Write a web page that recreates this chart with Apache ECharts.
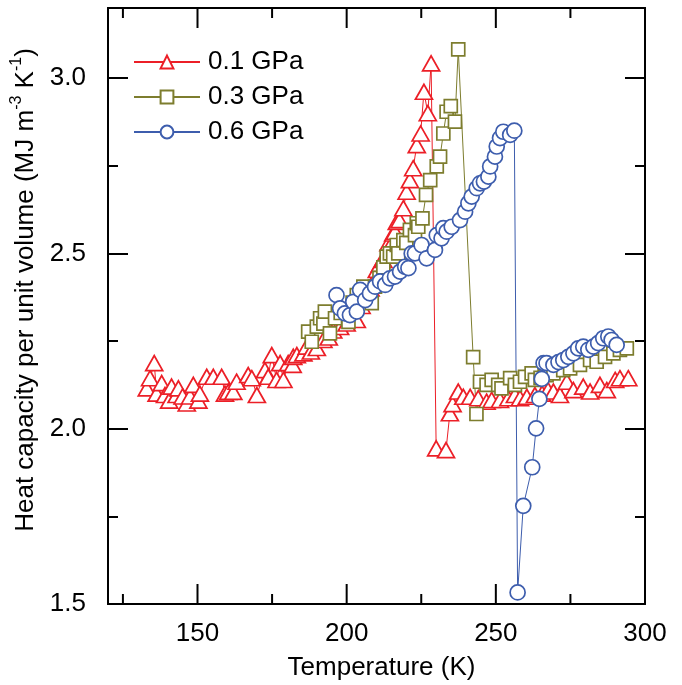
<!DOCTYPE html>
<html><head><meta charset="utf-8">
<script src="https://cdn.jsdelivr.net/npm/echarts@6/dist/echarts.min.js"></script>
<style>html,body{margin:0;padding:0;background:#fff}#c{width:682px;height:685px}</style>
</head><body><div id="c"></div>
<script>
// ---- data ----
const names = ['0.1 GPa', '0.3 GPa', '0.6 GPa'];
const xTicksMajor = [150, 200, 250, 300];
const xTicksMinor = [125, 175, 225, 275];
const yTicksMajor = [1.5, 2.0, 2.5, 3.0];

const t01 = [133.0,134.1,135.5,136.3,138.0,139.1,140.5,141.3,143.0,143.6,145.0,146.4,147.5,148.6,150.3,150.8,153.1,155.3,158.1,159.2,160.3,162.0,163.1,167.0,168.2,169.9,172.6,173.7,174.9,176.5,177.7,178.8,180.4,181.9,182.1,183.3,185.5,186.6,188.0,190.0,192.2,194.0,195.5,197.8,200.0,201.5,203.4,205.0,206.5,208.0,209.0,210.1,211.2,212.3,213.4,214.0,215.1,215.6,216.2,216.8,217.7,219.0,220.1,221.2,222.3,223.5,224.8,225.9,227.2,228.3,230.0,233.3,234.6,235.5,237.4,239.1,241.4,244.1,246.9,248.6,251.4,254.2,256.4,258.1,260.4,263.1,265.5,267.5,269.3,271.5,273.8,276.0,279.3,281.6,284.9,287.2,290.0,291.6,294.4];
const c01 = [2.115,2.144,2.187,2.100,2.130,2.096,2.080,2.120,2.096,2.115,2.092,2.072,2.092,2.125,2.080,2.100,2.148,2.148,2.148,2.100,2.105,2.105,2.134,2.153,2.144,2.096,2.167,2.148,2.210,2.139,2.187,2.139,2.187,2.182,2.205,2.210,2.215,2.234,2.220,2.230,2.253,2.260,2.280,2.290,2.300,2.320,2.310,2.350,2.370,2.400,2.420,2.453,2.470,2.481,2.495,2.529,2.529,2.557,2.562,2.590,2.595,2.629,2.676,2.709,2.743,2.809,2.842,2.961,2.900,3.042,1.944,1.939,2.044,2.070,2.106,2.091,2.091,2.087,2.077,2.082,2.082,2.087,2.096,2.087,2.091,2.096,2.100,2.110,2.106,2.096,2.134,2.110,2.120,2.106,2.125,2.110,2.139,2.144,2.144];

const t03 = [187.1,188.3,190.0,191.1,192.2,192.7,194.4,196.1,198.0,200.6,202.0,203.4,205.6,207.0,208.4,209.5,211.0,212.3,213.4,214.5,215.6,216.8,217.3,219.0,220.0,221.2,222.9,223.5,224.0,225.4,226.6,228.0,230.2,231.3,232.4,233.5,234.9,236.3,237.4,242.4,243.5,244.7,246.9,248.6,250.8,251.9,254.8,256.4,258.1,259.8,262.0,263.1,265.0,267.0,269.3,272.6,274.9,278.2,281.6,283.8,286.6,289.4,291.6,293.9];
const c03 = [2.277,2.248,2.291,2.315,2.300,2.334,2.272,2.315,2.330,2.305,2.360,2.381,2.405,2.370,2.358,2.405,2.430,2.460,2.491,2.500,2.491,2.524,2.500,2.538,2.530,2.567,2.552,2.586,2.576,2.600,2.667,2.709,2.748,2.776,2.842,2.904,2.920,2.876,3.082,2.204,2.042,2.134,2.125,2.139,2.125,2.115,2.144,2.125,2.134,2.148,2.158,2.139,2.145,2.153,2.158,2.167,2.172,2.182,2.196,2.191,2.205,2.215,2.225,2.229];

const t06 = [196.6,197.8,199.4,201.1,202.2,203.4,204.5,206.2,207.8,209.5,211.2,212.9,214.5,216.2,217.9,219.6,220.7,221.8,222.9,225.1,226.8,229.6,230.2,231.8,232.4,233.5,235.2,238.0,239.7,240.8,241.9,243.6,244.7,246.0,247.5,248.1,249.7,250.3,251.4,252.5,254.8,256.2,257.3,259.2,262.2,263.5,264.6,265.4,266.0,267.0,269.3,271.0,272.6,274.3,276.0,277.6,279.3,281.0,282.7,284.3,286.0,287.7,288.8,290.5];
const c06 = [2.381,2.343,2.329,2.324,2.362,2.334,2.396,2.367,2.386,2.405,2.420,2.410,2.429,2.434,2.448,2.462,2.458,2.500,2.500,2.524,2.486,2.510,2.552,2.543,2.572,2.562,2.576,2.595,2.619,2.643,2.662,2.686,2.700,2.705,2.719,2.748,2.776,2.805,2.829,2.847,2.838,2.850,1.533,1.780,1.890,2.001,2.085,2.142,2.187,2.187,2.182,2.190,2.196,2.205,2.215,2.229,2.234,2.225,2.234,2.244,2.258,2.263,2.253,2.239];

// ---- chart ----
const FONT = 'Liberation Sans, Arial, sans-serif';
const FS = 26;
const colors = ['#ec1f27', '#7d7d2e', '#3d5dad'];
const symbols = ['triangle', 'rect', 'circle'];
const sizes = [[17, 15], 13, 15];
const tsets = [t01, t03, t06], csets = [c01, c03, c06];
const X_MIN = 120, X_MAX = 300, Y_MIN = 1.5, Y_MAX = 3.2;

const chart = echarts.init(document.getElementById('c'), null, {renderer: 'canvas'});
const grid = {left: 108, right: 37, top: 8, bottom: 81, containLabel: false, outerBoundsMode: 'none'};
const lineSt = {show: true, lineStyle: {color: '#000', width: 2}};
const xLabelFmt = v => (xTicksMajor.indexOf(v) >= 0 ? String(v) : '');
const yLabelFmt = v => (yTicksMajor.some(t => Math.abs(t - v) < 1e-6) ? v.toFixed(1) : '');

function ya(pos, interval, len, withLabels, withName) {
  return Object.assign({
    type: 'value', position: pos, min: Y_MIN, max: Y_MAX, interval,
    axisLine: lineSt,
    axisTick: {show: true, inside: true, length: len, lineStyle: {color: '#000', width: 2}},
    splitLine: {show: false},
    axisLabel: withLabels ? {show: true, formatter: yLabelFmt, fontSize: FS, color: '#000', fontFamily: FONT, margin: 22} : {show: false}
  }, withName ? {name: '{n|Heat capacity per unit volume (MJ m}{s|-3}{n| K}{s|-1}{n|)}', nameLocation: 'middle', nameGap: 55,
    nameTextStyle: {fontFamily: FONT, color: '#000', padding: [0, 0, 0, 32], rich: {
      n: {fontSize: FS, fontFamily: FONT, color: '#000', verticalAlign: 'bottom', lineHeight: 30},
      s: {fontSize: 16, fontFamily: FONT, color: '#000', verticalAlign: 'top', lineHeight: 30}
    }}} : {});
}

const xAxes = [
  {type: 'value', position: 'bottom', min: X_MIN, max: X_MAX, interval: 10,
   axisLine: lineSt, axisTick: {show: false}, splitLine: {show: false},
   axisLabel: {show: true, formatter: xLabelFmt, fontSize: FS, color: '#000', fontFamily: FONT, margin: 17},
   name: 'Temperature (K)', nameLocation: 'middle', nameGap: 51,
   nameTextStyle: {fontSize: FS, color: '#000', fontFamily: FONT, padding: [0, 0, 0, 10]}},
  {type: 'value', position: 'top', min: X_MIN, max: X_MAX, interval: 10,
   axisLine: lineSt, axisTick: {show: false}, splitLine: {show: false}, axisLabel: {show: false}}
];

// tick marks for x axes, placed through the axis scale
const tickData = xTicksMajor.map(v => [v, Y_MIN, 20]).concat(xTicksMinor.map(v => [v, Y_MIN, 10]));
const tickSeries = {
  type: 'custom', xAxisIndex: 0, yAxisIndex: 0, silent: true, clip: false, z: 5,
  data: tickData,
  renderItem: function (params, api) {
    const v = api.value(0), len = api.value(2);
    const pb = api.coord([v, Y_MIN]);
    const pt = api.coord([v, Y_MAX]);
    const st = {stroke: '#000', lineWidth: 2};
    return {type: 'group', children: [
      {type: 'line', shape: {x1: pb[0], y1: pb[1], x2: pb[0], y2: pb[1] - len}, style: st},
      {type: 'line', shape: {x1: pt[0], y1: pt[1], x2: pt[0], y2: pt[1] + len}, style: st}
    ]};
  },
  animation: false
};

const series = names.map((n, i) => ({
  name: n, type: 'line', xAxisIndex: 0, yAxisIndex: 0,
  data: tsets[i].map((t, k) => [t, csets[i][k]]),
  symbol: symbols[i], symbolSize: sizes[i],
  showAllSymbol: true,
  lineStyle: {color: colors[i], width: 1},
  itemStyle: {color: '#fff', borderColor: colors[i], borderWidth: 1.7},
  emphasis: {disabled: true},
  animation: false
}));

chart.setOption({
  animation: false,
  backgroundColor: '#fff',
  textStyle: {fontFamily: FONT},
  grid,
  xAxis: xAxes,
  yAxis: [ya('left', 0.5, 20, true, true), ya('left', 0.25, 10, false, false), ya('right', 0.5, 20, false, false), ya('right', 0.25, 10, false, false)],
  legend: {
    data: names, orient: 'vertical', left: 128, top: 42,
    itemWidth: 66, itemHeight: 16, itemGap: 5,
    textStyle: {fontSize: FS, color: '#000', fontFamily: FONT, lineHeight: 30, padding: [0, 0, 0, 3]},
    selectedMode: false
  },
  series: series.concat([tickSeries])
});
</script></body></html>
